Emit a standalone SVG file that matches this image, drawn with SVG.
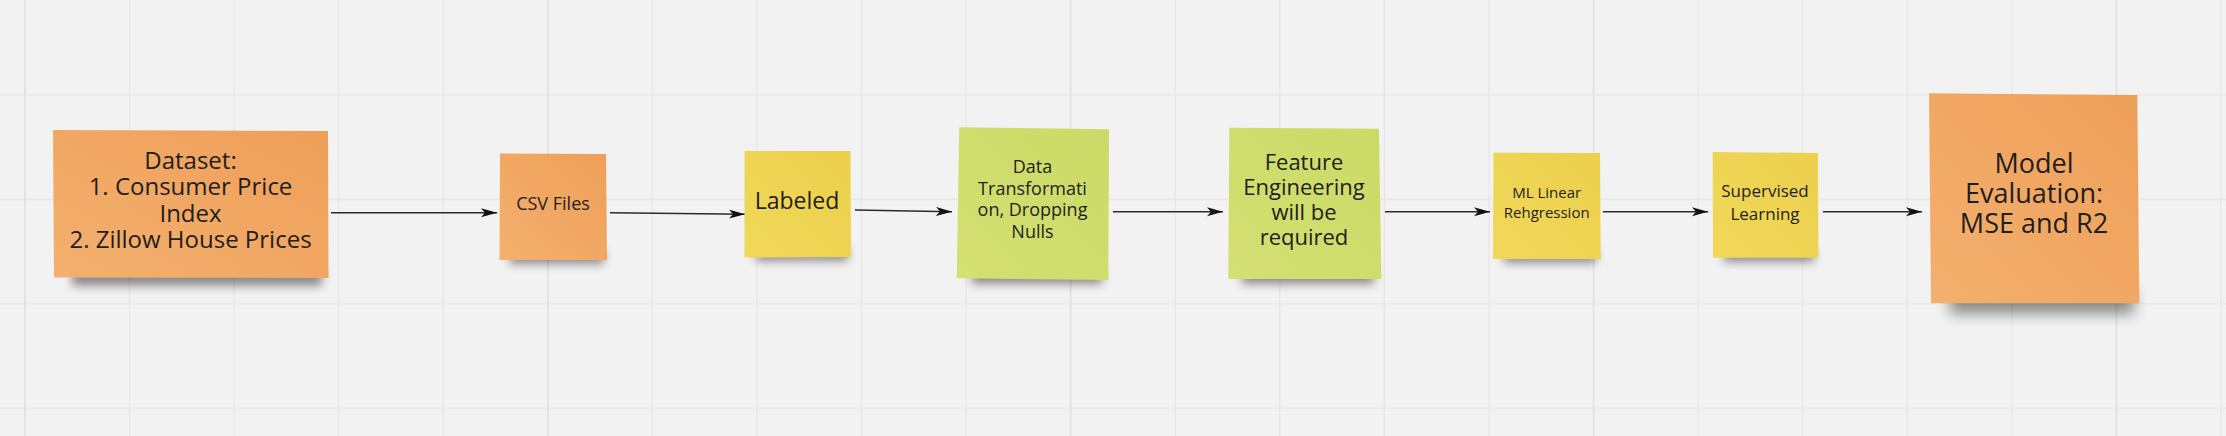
<svg xmlns="http://www.w3.org/2000/svg" width="2226" height="436" viewBox="0 0 2226 436">
<style>
.grid{stroke:#e7e7e7;stroke-width:1.3;fill:none}
.major{stroke:#e0e0e0;stroke-width:1.6;fill:none}
.t{font-family:"Open Sans","Liberation Sans",sans-serif;fill:#1e1e1e;text-anchor:middle}
.conn{stroke:#2a2a2a;stroke-width:1.5;fill:none}
.shadow{fill:#000;opacity:0.42}
</style>
<defs>
<linearGradient id="gOrange" x1="1" y1="0" x2="0" y2="1">
<stop offset="0" stop-color="#EE9F58"/><stop offset="1" stop-color="#F4B06F"/>
</linearGradient>
<linearGradient id="gYellow" x1="1" y1="0" x2="0" y2="1">
<stop offset="0" stop-color="#ECD04C"/><stop offset="1" stop-color="#F1D85A"/>
</linearGradient>
<linearGradient id="gGreen" x1="1" y1="0" x2="0" y2="1">
<stop offset="0" stop-color="#CBDA66"/><stop offset="1" stop-color="#D3E072"/>
</linearGradient>
<filter id="blur" x="-30%" y="-100%" width="160%" height="300%"><feGaussianBlur stdDeviation="5"/></filter>
<filter id="blurL" x="-30%" y="-100%" width="160%" height="300%"><feGaussianBlur stdDeviation="7"/></filter>
<marker id="arrow" markerUnits="userSpaceOnUse" markerWidth="18" markerHeight="10" refX="16" refY="4.5" orient="auto">
<path d="M0,0 L16,4.5 L0,9 L4,4.5 Z" fill="#111"/>
</marker>
</defs>
<rect x="0" y="0" width="2226" height="436" fill="#f2f2f2"/>
<g id="grid">
<path class="grid" d="M129.6,0V436M234.1,0V436M338.7,0V436M443.3,0V436M652.4,0V436M757,0V436M861.6,0V436M966.1,0V436M1175.3,0V436M1279.8,0V436M1384.4,0V436M1489,0V436M1698.1,0V436M1802.7,0V436M1907.3,0V436M2011.8,0V436M2221,0V436M0,95.2H2226M0,199.5H2226M0,303.8H2226M0,408.1H2226"/>
<path class="major" d="M25,0V436M547.9,0V436M1070.7,0V436M1593.6,0V436M2116.4,0V436"/>
</g>
<g id="connectors">
<path class="conn" d="M331,212.7L497,212.7" marker-end="url(#arrow)"/>
<path class="conn" d="M610,212.7L745,214.3" marker-end="url(#arrow)"/>
<path class="conn" d="M855,210L952,211.7" marker-end="url(#arrow)"/>
<path class="conn" d="M1113,211.7L1223,211.7" marker-end="url(#arrow)"/>
<path class="conn" d="M1385,211.7L1490,211.7" marker-end="url(#arrow)"/>
<path class="conn" d="M1603,211.7L1708,211.7" marker-end="url(#arrow)"/>
<path class="conn" d="M1823,211.7L1922,211.7" marker-end="url(#arrow)"/>
</g>
<g id="node-dataset">
<rect class="shadow" x="72" y="266" width="250" height="20" filter="url(#blur)"/>
<polygon points="53,130 328,131 328.5,278 54,277.5" fill="url(#gOrange)"/>
<text class="t" font-size="24"><tspan x="190.5" y="168.5">Dataset:</tspan><tspan x="190.5" y="195">1. Consumer Price</tspan><tspan x="190.5" y="221.5">Index</tspan><tspan x="190.5" y="248">2. Zillow House Prices</tspan></text>
</g>
<g id="node-csv">
<rect class="shadow" x="510" y="250" width="94" height="14" filter="url(#blur)"/>
<polygon points="500,153.5 606,154 607,260 499.5,260" fill="url(#gOrange)"/>
<text class="t" font-size="18" x="553" y="209.7">CSV Files</text>
</g>
<g id="node-labeled">
<rect class="shadow" x="756" y="247" width="92" height="14" filter="url(#blur)"/>
<polygon points="744.5,151 850.5,151 851,257 744.5,257.5" fill="url(#gYellow)"/>
<text class="t" font-size="23" x="797" y="209">Labeled</text>
</g>
<g id="node-transform">
<rect class="shadow" x="972" y="267" width="130" height="17" filter="url(#blur)"/>
<polygon points="959.3,127.3 1109,129.3 1108.3,280 956.7,278.3" fill="url(#gGreen)"/>
<text class="t" font-size="18"><tspan x="1032.5" y="173.1">Data</tspan><tspan x="1032.5" y="194.7">Transformati</tspan><tspan x="1032.5" y="216.4">on, Dropping</tspan><tspan x="1032.5" y="238.1">Nulls</tspan></text>
</g>
<g id="node-feature">
<rect class="shadow" x="1242" y="267" width="132" height="17" filter="url(#blur)"/>
<polygon points="1229.3,127.7 1379,128.7 1381.3,279 1228.3,279" fill="url(#gGreen)"/>
<text class="t" font-size="22"><tspan x="1304" y="169.6">Feature</tspan><tspan x="1304" y="194.6">Engineering</tspan><tspan x="1304" y="219.6">will be</tspan><tspan x="1304" y="244.6">required</tspan></text>
</g>
<g id="node-ml">
<rect class="shadow" x="1504" y="249" width="92" height="14" filter="url(#blur)"/>
<polygon points="1493.5,152.7 1600,153 1600.7,259 1493,259" fill="url(#gYellow)"/>
<text class="t" font-size="15"><tspan x="1546.7" y="198">ML Linear</tspan><tspan x="1546.7" y="218">Rehgression</tspan></text>
</g>
<g id="node-supervised">
<rect class="shadow" x="1724" y="248" width="90" height="14" filter="url(#blur)"/>
<polygon points="1712.7,152 1818,153 1818.3,257.7 1713,257.7" fill="url(#gYellow)"/>
<text class="t" font-size="17"><tspan x="1765" y="196.8">Supervised</tspan><tspan x="1765" y="220.1">Learning</tspan></text>
</g>
<g id="node-model">
<rect class="shadow" x="1950" y="290" width="184" height="24" filter="url(#blurL)"/>
<polygon points="1929,93.3 2137.3,95 2139.3,303.3 1931,303.3" fill="url(#gOrange)"/>
<text class="t" font-size="27"><tspan x="2034" y="172.9">Model</tspan><tspan x="2034" y="202.9">Evaluation:</tspan><tspan x="2034" y="232.9">MSE and R2</tspan></text>
</g>
</svg>
